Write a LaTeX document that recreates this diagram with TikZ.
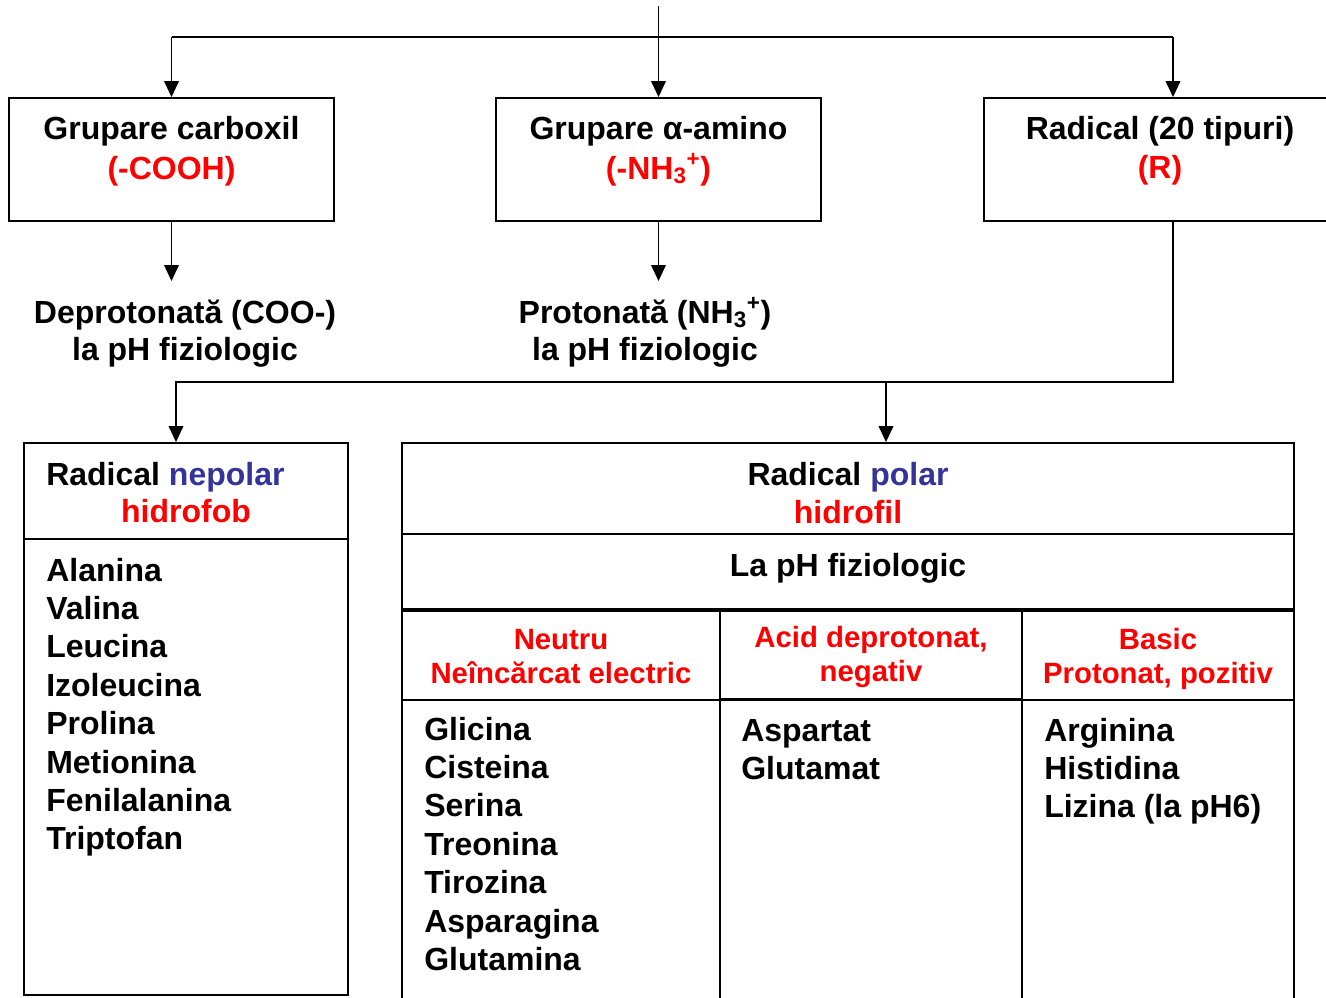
\documentclass[tikz,border=0pt]{standalone}
\usepackage{fontspec}
\setmainfont{Liberation Sans}
\usetikzlibrary{arrows.meta}
\definecolor{hotred}{HTML}{FF0000}
\definecolor{polblue}{HTML}{333399}
\tikzset{
  box/.style={draw=black, line width=1.4pt, inner sep=0pt},
  flow/.style={-{Triangle[length=12pt,width=11pt]}, line width=1.2pt},
  wire/.style={line width=1.2pt},
  hd/.style={font=\bfseries\fontsize{24}{28}\selectfont, inner sep=0pt, anchor=base},
  item/.style={hd, anchor=base west},
  colhd/.style={font=\bfseries\fontsize{22}{26}\selectfont, text=hotred, inner sep=0pt, anchor=base},
}

\begin{document}
\begin{tikzpicture}[x=0.75pt, y=-0.75pt]
  \useasboundingbox (0,0) rectangle (1326,997);

  % top row: the three groups
  \node[box, minimum width=243.75pt, minimum height=92.25pt] (carb) at (171.5,159.5) {};
  \node[box, minimum width=243.75pt, minimum height=92.25pt] (amino) at (658.5,159.5) {};
  \node[box, minimum width=283.5pt, minimum height=92.25pt] (rad) at (1173,159.5) {};
  \node[hd] (carbT) at (171.5,139) {Grupare carboxil};
  \node[hd, text=hotred] (carbF) at (171.5,179) {(-COOH)};
  \node[hd] (aminoT) at (658.5,139) {Grupare α-amino};
  \node[hd, text=hotred] (aminoF) at (658.5,179) {(-NH\textsubscript{3}\textsuperscript{+})};
  \node[hd] (radT) at (1160,139) {Radical (20 tipuri)};
  \node[hd, text=hotred] (radF) at (1160,178) {(R)};

  \coordinate (src) at (658.5,6);
  \coordinate (busL) at (171.5,37);
  \coordinate (busR) at (1173,37);
  \draw[wire] (busL) -- (busR);
  \draw[flow] (src) -- (amino.north);
  \draw[flow] (busL) -- (carb.north);
  \draw[flow] (busR) -- (rad.north);

  % state at physiological pH
  \node[hd] (deprot) at (185,323) {Deprotonată (COO-)};
  \node[hd] (deprotPh) at (185,360) {la pH fiziologic};
  \node[hd] (prot) at (645,323) {Protonată (NH\textsubscript{3}\textsuperscript{+})};
  \node[hd] (protPh) at (645,360) {la pH fiziologic};
  \coordinate (carbTip) at (171.5,281);
  \coordinate (aminoTip) at (658.5,281);
  \draw[flow] (carb.south) -- (carbTip);
  \draw[flow] (amino.south) -- (aminoTip);

  % nonpolar radicals (left)
  \node[box, minimum width=243pt, minimum height=72pt] (npHead) at (186,491) {};
  \node[box, minimum width=243pt, minimum height=342pt] (npList) at (186,767) {};
  \node[item] (npT) at (46,485) {Radical \textcolor{polblue}{nepolar}};
  \node[hd, text=hotred] (npF) at (186,522) {hidrofob};
  \foreach \nm [count=\i from 0] in {Alanina,Valina,Leucina,Izoleucina,Prolina,Metionina,Fenilalanina,Triptofan}
    \node[item] (np\i) at (46,{581+\i*38.4}) {\nm};

  % polar radicals (right)
  \node[box, minimum width=669pt, minimum height=68.25pt] (pHead) at (848,488.5) {};
  \node[box, minimum width=669pt, minimum height=56.25pt] (pPh) at (848,571.5) {};
  \node[box, minimum width=238.5pt, minimum height=68.25pt] (nHead) at (561,654.5) {};
  \node[box, minimum width=226.5pt, minimum height=67.5pt] (aHead) at (871,654) {};
  \node[box, minimum width=204pt, minimum height=68.25pt] (bHead) at (1158,654.5) {};
  \node[box, minimum width=238.5pt, minimum height=232.5pt] (nList) at (561,855) {};
  \node[box, minimum width=226.5pt, minimum height=232.5pt] (aList) at (871,855) {};
  \node[box, minimum width=204pt, minimum height=232.5pt] (bList) at (1158,855) {};
  \draw[line width=2.4pt] (pPh.south west) -- (pPh.south east);

  \node[hd] (pT) at (848,485) {Radical \textcolor{polblue}{polar}};
  \node[hd, text=hotred] (pF) at (848,523) {hidrofil};
  \node[hd] (pPhT) at (848,576) {La pH fiziologic};
  \node[colhd] (nT) at (561,649) {Neutru};
  \node[colhd] (nF) at (561,683) {Neîncărcat electric};
  \node[colhd] (aT) at (871,647) {Acid deprotonat,};
  \node[colhd] (aF) at (871,681) {negativ};
  \node[colhd] (bT) at (1158,649) {Basic};
  \node[colhd] (bF) at (1158,683) {Protonat, pozitiv};

  \foreach \nm [count=\i from 0] in {Glicina,Cisteina,Serina,Treonina,Tirozina,Asparagina,Glutamina}
    \node[item] (n\i) at (424,{740+\i*38.4}) {\nm};
  \foreach \nm [count=\i from 0] in {Aspartat,Glutamat}
    \node[item] (a\i) at (741,{741+\i*38.4}) {\nm};
  \foreach \nm [count=\i from 0] in {Arginina,Histidina,Lizina (la pH6)}
    \node[item] (b\i) at (1044,{741+\i*38.4}) {\nm};

  % radical splits into nonpolar / polar
  \coordinate (splitL) at (176,382);
  \coordinate (splitR) at (886,382);
  \draw[flow] (rad.south) |- (splitL) -- (splitL |- npHead.north);
  \draw[flow] (splitR) -- (splitR |- pHead.north);
\end{tikzpicture}
\end{document}
